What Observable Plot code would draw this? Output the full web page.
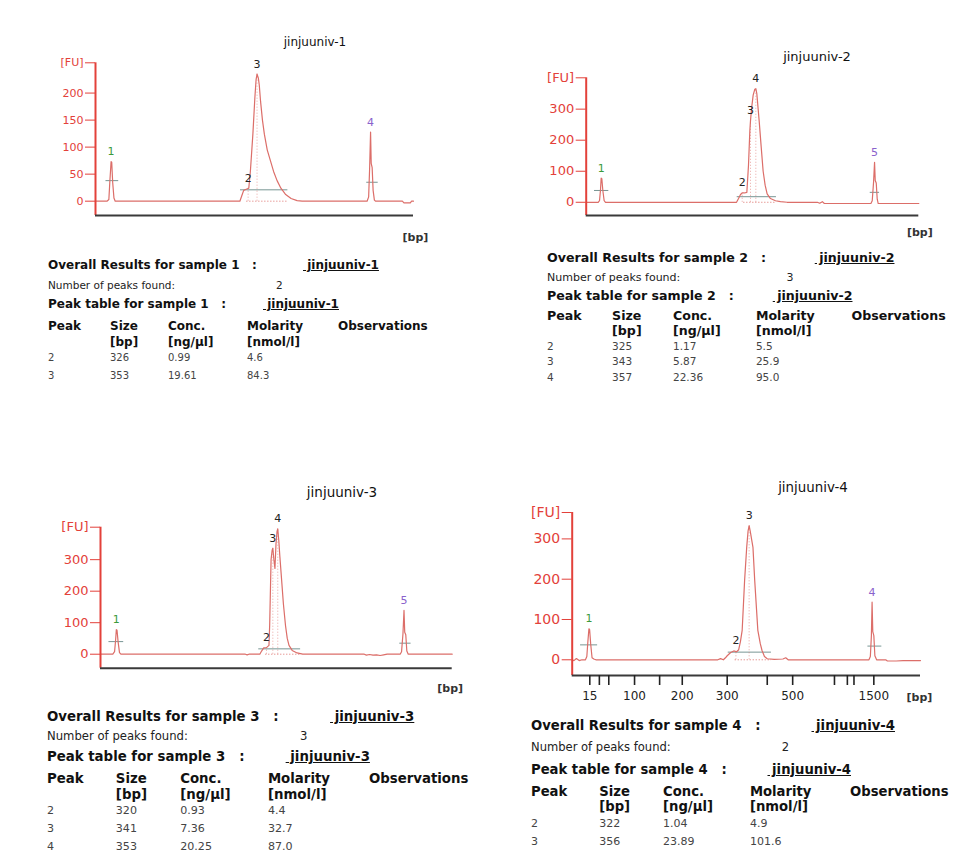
<!DOCTYPE html>
<html><head><meta charset="utf-8">
<script src="https://cdn.jsdelivr.net/npm/d3@7"></script>
<script src="https://cdn.jsdelivr.net/npm/@observablehq/plot@0.6"></script>
<style>
body{margin:0;background:#fff;}
#root{position:relative;width:980px;height:863px;overflow:hidden;background:#fff;font-family:"DejaVu Sans",sans-serif;color:#111;}
.abs{position:absolute;white-space:pre;line-height:1;}
.b{font-weight:bold;}
.u{text-decoration:underline;}
</style></head><body><div id="root"></div><script>
// ---------------- data ----------------
const sampleNames = ["jinjuuniv-1", "jinjuuniv-2", "jinjuuniv-3", "jinjuuniv-4"];
const peaksFound = [2, 3, 3, 2];
const headerTop = ["Peak", "Size", "Conc.", "Molarity", "Observations"];
const headerBottom = ["", "[bp]", "[ng/µl]", "[nmol/l]", ""];
const table1 = [["2", "326", "0.99", "4.6"], ["3", "353", "19.61", "84.3"]];
const table2 = [["2", "325", "1.17", "5.5"], ["3", "343", "5.87", "25.9"], ["4", "357", "22.36", "95.0"]];
const table3 = [["2", "320", "0.93", "4.4"], ["3", "341", "7.36", "32.7"], ["4", "353", "20.25", "87.0"]];
const table4 = [["2", "322", "1.04", "4.9"], ["3", "356", "23.89", "101.6"]];

// ladder (x axis of sample 4), positions in relative migration units 0..100
const ladderBp = [15, 25, 50, 100, 150, 200, 300, 400, 500, 700, 850, 1000, 1500];
const ladderPos = [5.05, 7.8, 10.5, 17.9, 25.1, 31.6, 44.5, 56.0, 63.3, 75.3, 79.0, 80.9, 86.6];
const ladderLabeled = [15, 100, 200, 300, 500, 1500];

// y axes (FU)
const yTicks1 = [0, 50, 100, 150, 200];
const yTicks2 = [0, 100, 200, 300];
const yTicks3 = [0, 100, 200, 300];
const yTicks4 = [0, 100, 200, 300];
const yDomain1 = [-26.5, 256];
const yDomain2 = [-42.6, 401];
const yDomain3 = [-44.4, 403];
const yDomain4 = [-39, 365.5];

// electropherogram traces [migration, FU]
const trace1 = [[0,0],[3.6,0],[4.2,3],[4.5,35],[4.9,73],[5.1,72],[5.4,35],[5.8,6],[6.2,0],
  [45.4,0],[46.0,10],[46.6,20],[47.4,22],[48.2,24],[48.7,55],[49.5,125],[50.1,190],[50.5,225],[50.8,235],[51.2,228],[51.5,215],[51.9,185],[52.5,150],[53.1,124],[54.0,95],[55.0,75],[56.0,55],[57.1,38],[58.3,24],[59.7,13],[61.5,5],[63.4,1],[65,0],
  [85.4,0],[85.9,8],[86.2,60],[86.5,128],[86.7,70],[87.0,62],[87.3,20],[87.7,2],[88.1,0],
  [96.5,0],[97,-3],[99,-3],[99.4,0],[100,0]];
const trace2 = [[0,0],[3.6,0],[4.0,5],[4.3,40],[4.5,78],[4.7,76],[5.0,38],[5.4,5],[5.8,0],
  [45.2,0],[45.8,12],[46.4,25],[46.9,30],[47.6,30],[48.3,32],[48.8,120],[49.2,230],[49.4,263],[49.7,300],[50.2,345],[50.7,364],[51.0,366],[51.3,350],[51.7,300],[52.0,263],[52.6,180],[53.2,100],[53.8,55],[54.4,27],[55.4,12],[56.9,5],[58.4,2],[60.4,0],
  [69.5,0],[70.2,-3],[71.0,2],[71.6,-4],[72.2,-4],
  [85.6,-4],[86.0,5],[86.4,65],[86.7,129],[86.9,70],[87.2,62],[87.5,10],[87.8,-4],[100,-4]];
const trace3 = [[0,0],[3.5,0],[4.0,8],[4.3,45],[4.5,78],[4.7,76],[5.0,40],[5.4,5],[5.8,0],
  [41.2,0],[41.7,-2],[42.2,0],
  [45.3,0],[45.8,10],[46.4,20],[47.2,21],[47.9,28],[48.1,92],[48.5,300],[48.8,330],[49.0,336],[49.3,300],[49.6,272],[49.9,350],[50.2,390],[50.4,398],[50.7,360],[51.0,310],[51.4,250],[52.0,160],[52.6,91],[53.1,50],[53.6,28],[54.5,12],[55.9,4],[57.5,0],
  [75.0,0],[75.6,-3],[76.5,-1],[77.5,-3],[78.5,-2],[79.5,-4],[80.5,-2],[81.5,0],
  [85.2,0],[85.6,8],[86.0,65],[86.3,139],[86.5,70],[86.8,62],[87.1,10],[87.5,0],[100,0]];
const trace4 = [[0,0],[0.5,-2],[1.2,3],[2.0,-2],[2.8,0],[3.8,0],[4.2,8],[4.5,45],[4.8,77],[5.0,75],[5.3,40],[5.7,5],[6.2,2],[6.8,0],
  [41.8,0],[42.6,3],[43.4,0],[44.0,5],[44.5,10],[45.5,18],[46.4,22],[47.2,20],[47.8,25],[48.3,45],[48.8,73],[49.5,197],[50.1,279],[50.5,320],[50.8,333],[51.1,320],[51.9,279],[52.4,197],[53.3,73],[54.0,40],[54.5,23],[55.2,8],[56.0,2.5],[58,1],[60.5,2],[61.3,5],[62,0],
  [85.2,0],[85.6,8],[85.9,60],[86.1,143],[86.3,70],[86.6,60],[86.9,10],[87.4,0],[90.0,0],[90.5,-3],[93,-3],[95,-2],[100,-2]];

// peak labels [migration, FU, label, kind]  kind: lower marker / sample / upper marker
const peaks1 = [[4.9,73,"1","lm"],[48.0,24,"2","s"],[50.8,235,"3","s"],[86.5,128,"4","um"]];
const peaks2 = [[4.5,78,"1","lm"],[46.9,30,"2","s"],[49.4,263,"3","s"],[51.0,366,"4","s"],[86.7,129,"5","um"]];
const peaks3 = [[4.5,78,"1","lm"],[47.2,21,"2","s"],[49.0,336,"3","s"],[50.4,398,"4","s"],[86.3,139,"5","um"]];
const peaks4 = [[4.8,77,"1","lm"],[47.0,22,"2","s"],[50.8,333,"3","s"],[86.1,143,"4","um"]];

// integration lines [from, to, FU]
const hLines1 = [[3.3,7.3,38],[45.6,60.5,21],[85.3,88.9,35]];
const hLines2 = [[2.5,6.8,38],[45.4,57.2,18],[85.4,88.2,32]];
const hLines3 = [[2.4,6.6,40],[45.0,56.9,17],[85.1,88.3,35]];
const hLines4 = [[2.4,7.3,37],[44.8,57.2,19],[84.9,88.9,34]];

// ---------------- drawing ----------------
const root = document.getElementById("root");
const RED = "#e3413a";
const TRACE = "#dc6e69";
const KIND_COLOR = {lm: "#3b9a3b", s: "#222", um: "#8a62cc"};

function addText(html, x, yc, fs, cls, color, center) {
  const d = document.createElement("div");
  d.className = "abs " + (cls || "");
  d.style.left = x + "px";
  d.style.top = (yc - fs * 0.5) + "px";
  d.style.fontSize = fs + "px";
  if (color) d.style.color = color;
  if (center) d.style.transform = "translateX(-50%)";
  d.textContent = html;
  root.appendChild(d);
  return d;
}

const panels = [
  {trace: trace1, peaks: peaks1, hl: hLines1, yTicks: yTicks1, yDomain: yDomain1,
   g: {x0: 95, x1: 413, yTop: 62.3, yBot: 215, fs: 11, bp: [2, 22]},
   title: {x: 315, y: 42, fs: 12}, ladder: false},
  {trace: trace2, peaks: peaks2, hl: hLines2, yTicks: yTicks2, yDomain: yDomain2,
   g: {x0: 585.7, x1: 918.3, yTop: 77.3, yBot: 215, fs: 13, bp: [1, 17]},
   title: {x: 817, y: 56, fs: 13}, ladder: false},
  {trace: trace3, peaks: peaks3, hl: hLines3, yTicks: yTicks3, yDomain: yDomain3,
   g: {x0: 100, x1: 451.7, yTop: 526.7, yBot: 667.7, fs: 13, bp: [-2, 20]},
   title: {x: 342, y: 493, fs: 13.5}, ladder: false},
  {trace: trace4, peaks: peaks4, hl: hLines4, yTicks: yTicks4, yDomain: yDomain4,
   g: {x0: 571.7, x1: 920, yTop: 512, yBot: 675, fs: 14, bp: [-1, 22]},
   title: {x: 813, y: 488, fs: 13.4}, ladder: true}
];

const ladderLabelByPos = new Map(ladderBp.map((bp, i) => [ladderPos[i], ladderLabeled.includes(bp) ? String(bp) : ""]));

panels.forEach((p, idx) => {
  const g = p.g;
  const svgLeft = Math.round(g.x0 - 60);
  const svgTop = Math.round(g.yTop - 20);
  const width = Math.round(g.x1 + 30) - svgLeft;
  const height = Math.round(g.yBot + 40) - svgTop;
  const yMax = p.yDomain[1];
  const marks = [
    Plot.ruleY(p.hl, {x1: d => d[0], x2: d => d[1], y: d => d[2], stroke: "#789694", strokeWidth: 1}),
    Plot.ruleY(p.hl.slice(1, 2), {x1: d => d[0] + 2, x2: d => d[1], y: 0, stroke: TRACE, strokeWidth: 1, strokeDasharray: "1,2"}),
    Plot.ruleX(p.peaks.filter(d => d[3] === "s"), {x: d => d[0], y1: 0, y2: d => d[1], stroke: TRACE, strokeOpacity: 0.6, strokeWidth: 1, strokeDasharray: "1,2"}),
    Plot.line(p.trace, {x: d => d[0], y: d => d[1], stroke: TRACE, strokeWidth: 1.2}),
    Plot.text(p.peaks, {x: d => d[0], y: d => d[1], text: d => d[2], fill: d => KIND_COLOR[d[3]], dy: -10, fontSize: 11}),
    Plot.axisY({ticks: [...p.yTicks, yMax], tickFormat: d => d === yMax ? "[FU]" : String(d),
      color: RED, tickSize: 10, tickPadding: 2, fontSize: g.fs, label: null}),
    Plot.ruleX([0], {stroke: RED, strokeWidth: 2}),
    Plot.ruleY([p.yDomain[0]], {stroke: "#3a3a3a", strokeWidth: 2}),
    Plot.text(["[bp]"], {frameAnchor: "bottom-right", text: d => d, dx: g.bp[0], dy: g.bp[1],
      textAnchor: "middle", lineAnchor: "middle", fontSize: 11, fontWeight: "bold", fill: "#333"})
  ];
  if (p.ladder) {
    marks.push(Plot.axisX({ticks: ladderPos, tickFormat: d => ladderLabelByPos.get(d) ?? "",
      tickSize: 10, tickPadding: 6, fontSize: 12, color: "#222", strokeWidth: 1.6, label: null}));
  }
  const el = Plot.plot({
    width, height,
    marginLeft: g.x0 - svgLeft,
    marginRight: svgLeft + width - g.x1,
    marginTop: g.yTop - svgTop,
    marginBottom: svgTop + height - g.yBot,
    x: {domain: [0, 100], axis: p.ladder ? undefined : null},
    y: {domain: p.yDomain},
    style: {fontFamily: "DejaVu Sans", overflow: "visible", background: "transparent"},
    marks
  });
  el.style.position = "absolute";
  el.style.left = svgLeft + "px";
  el.style.top = svgTop + "px";
  root.appendChild(el);
  addText(sampleNames[idx], p.title.x, p.title.y, p.title.fs, "", "#111", true);
});

// ---------------- result tables ----------------
const tables = [table1, table2, table3, table4];
const tLayout = [
  {left: 48, s: 1.0, y: [265, 285, 304, 326, 342], rows: [358, 376]},
  {left: 547, s: 1.05, y: [258, 278, 296, 316, 331], rows: [346, 361, 377]},
  {left: 47, s: 1.11, y: [717, 737, 757, 779, 795], rows: [811, 829, 847]},
  {left: 531, s: 1.10, y: [726, 748, 770, 792, 807], rows: [823, 841]}
];
const colOff = [0, 62, 120, 199, 290];
tLayout.forEach((L, i) => {
  const s = L.s, x = L.left, n = i + 1;
  const fb = 12 * s, fsm = 10.5 * s, fr = 10 * s;
  addText(`Overall Results for sample ${n}   :`, x, L.y[0], fb, "b");
  addText(` ${sampleNames[i]}`, x + 255 * s, L.y[0], fb, "b u");
  addText("Number of peaks found:", x, L.y[1], fsm, "", "#222");
  addText(String(peaksFound[i]), x + 228 * s, L.y[1], fsm, "", "#222");
  addText(`Peak table for sample ${n}   :`, x, L.y[2], fb, "b");
  addText(` ${sampleNames[i]}`, x + 215 * s, L.y[2], fb, "b u");
  headerTop.forEach((h, j) => addText(h, x + colOff[j] * s, L.y[3], fb, "b"));
  headerBottom.forEach((h, j) => { if (h) addText(h, x + colOff[j] * s, L.y[4], fb, "b"); });
  tables[i].forEach((row, r) => row.forEach((v, j) => addText(v, x + colOff[j] * s, L.rows[r], fr, "", "#444")));
});
</script></body></html>
